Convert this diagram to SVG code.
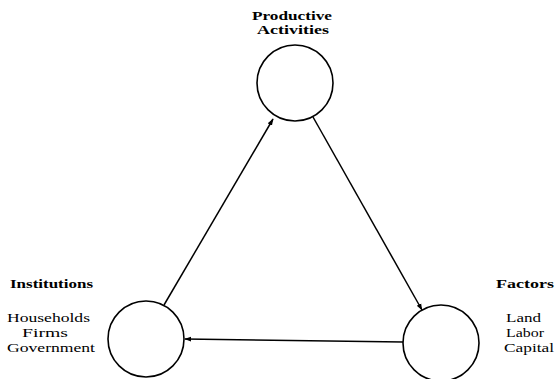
<svg xmlns="http://www.w3.org/2000/svg" width="556" height="379" viewBox="0 0 556 379">
<defs>
<style>
.node{fill:none;stroke:#000;stroke-width:1.6}
.conn{stroke:#000;stroke-width:1.5;fill:none}
.t{font-family:"Liberation Serif","Times New Roman",serif;font-size:13px;fill:#000}
.b{font-weight:bold}
</style>
<marker id="ah" viewBox="0 0 10 10" refX="9" refY="5" markerWidth="7" markerHeight="7" markerUnits="userSpaceOnUse" orient="auto">
<path d="M0,1.5 L10,5 L0,8.5 Z" fill="#000"/>
</marker>
</defs>
<rect width="556" height="379" fill="#fff"/>
<g id="productive">
<circle class="node" cx="295" cy="83" r="38"/>
<text class="t b" x="252" y="20" textLength="80" lengthAdjust="spacingAndGlyphs">Productive</text>
<text class="t b" x="257" y="34" textLength="72" lengthAdjust="spacingAndGlyphs">Activities</text>
</g>
<g id="institutions">
<circle class="node" cx="146" cy="339" r="38"/>
<text class="t b" x="10" y="288" textLength="83" lengthAdjust="spacingAndGlyphs">Institutions</text>
<text class="t" x="7" y="322" textLength="83" lengthAdjust="spacingAndGlyphs">Households</text>
<text class="t" x="22" y="337" textLength="46" lengthAdjust="spacingAndGlyphs">Firms</text>
<text class="t" x="7" y="352" textLength="88" lengthAdjust="spacingAndGlyphs">Government</text>
</g>
<g id="factors">
<circle class="node" cx="441" cy="343" r="38"/>
<text class="t b" x="496" y="288" textLength="58" lengthAdjust="spacingAndGlyphs">Factors</text>
<text class="t" x="506" y="322" textLength="35" lengthAdjust="spacingAndGlyphs">Land</text>
<text class="t" x="506" y="337" textLength="38" lengthAdjust="spacingAndGlyphs">Labor</text>
<text class="t" x="504" y="352" textLength="50" lengthAdjust="spacingAndGlyphs">Capital</text>
</g>
<g id="connectors">
<line class="conn" x1="164" y1="305" x2="273" y2="119" marker-end="url(#ah)"/>
<line class="conn" x1="313" y1="117" x2="422" y2="310" marker-end="url(#ah)"/>
<line class="conn" x1="403" y1="342" x2="185" y2="339" marker-end="url(#ah)"/>
</g>
</svg>
